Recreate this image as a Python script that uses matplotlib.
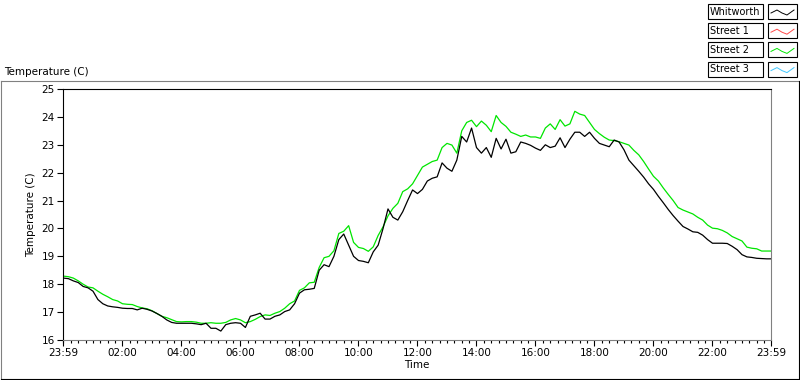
import numpy as np
import matplotlib
matplotlib.use("Agg")
import matplotlib.pyplot as plt
from matplotlib.patches import Rectangle
from matplotlib.ticker import FixedLocator, MultipleLocator

# minutes after midnight, one reading every 10 minutes (last one at 23:59)
minutes = list(range(0, 1440, 10)) + [1439]

whitworth = [
    18.22, 18.2, 18.12, 18.06, 17.92, 17.87, 17.75, 17.45, 17.3, 17.22, 17.19, 17.17, 17.14,
    17.13, 17.13, 17.08, 17.14, 17.1, 17.04, 16.95, 16.85, 16.72, 16.63, 16.6, 16.6,
    16.6, 16.6, 16.58, 16.55, 16.6, 16.42, 16.42, 16.32, 16.55, 16.6, 16.62, 16.6,
    16.45, 16.85, 16.9, 16.96, 16.75, 16.75, 16.85, 16.9, 17.02, 17.08, 17.3, 17.68,
    17.8, 17.82, 17.85, 18.5, 18.7, 18.63, 19.0, 19.6, 19.8, 19.4, 19.0, 18.85,
    18.82, 18.77, 19.16, 19.4, 20.0, 20.7, 20.4, 20.3, 20.6, 21.0, 21.38, 21.25,
    21.4, 21.7, 21.8, 21.85, 22.35, 22.16, 22.05, 22.45, 23.3, 23.1, 23.6, 22.9,
    22.7, 22.9, 22.55, 23.23, 22.85, 23.2, 22.7, 22.75, 23.1, 23.05, 22.98, 22.88,
    22.8, 23.0, 22.9, 22.95, 23.25, 22.9, 23.2, 23.45, 23.45, 23.3, 23.45, 23.23,
    23.05, 22.99, 22.93, 23.17, 23.1, 22.82, 22.45, 22.25, 22.05, 21.84, 21.6, 21.4,
    21.15, 20.92, 20.68, 20.46, 20.26, 20.07, 19.98, 19.88, 19.86, 19.76, 19.6, 19.47,
    19.47, 19.47, 19.46, 19.36, 19.24, 19.06, 18.98, 18.96, 18.93, 18.92, 18.91, 18.91,
]

street2 = [
    18.29, 18.27, 18.22, 18.12, 18.0, 17.9, 17.87, 17.75, 17.64, 17.55, 17.45, 17.4, 17.3,
    17.28, 17.27, 17.2, 17.15, 17.12, 17.05, 16.95, 16.85, 16.8, 16.73, 16.66, 16.65,
    16.66, 16.66, 16.64, 16.6, 16.6, 16.62, 16.6, 16.6, 16.63, 16.72, 16.77, 16.72,
    16.62, 16.66, 16.74, 16.84, 16.9, 16.88, 16.96, 17.02, 17.14, 17.3, 17.4, 17.78,
    17.87, 18.05, 18.07, 18.6, 18.95, 19.0, 19.2, 19.82, 19.9, 20.1, 19.5, 19.32,
    19.28, 19.18, 19.34, 19.75, 20.06, 20.45, 20.72, 20.9, 21.32, 21.42, 21.6, 21.9,
    22.2, 22.3, 22.4, 22.45, 22.9, 23.05, 22.99, 22.7, 23.5, 23.8, 23.88, 23.65,
    23.85, 23.7, 23.47, 24.05, 23.8, 23.66, 23.45, 23.38, 23.3, 23.35, 23.28, 23.28,
    23.23, 23.6, 23.75, 23.55, 23.9, 23.67, 23.75, 24.2, 24.1, 24.05, 23.8, 23.55,
    23.4, 23.27, 23.17, 23.15, 23.11, 23.05, 22.99, 22.8, 22.64, 22.4, 22.13, 21.87,
    21.7, 21.45, 21.22, 21.0, 20.75, 20.66, 20.59, 20.52, 20.4, 20.3, 20.12, 20.01,
    19.99, 19.93, 19.84, 19.71, 19.63, 19.55, 19.33, 19.29, 19.27, 19.19, 19.19, 19.19,
]

legend_names = ["Whitworth", "Street 1", "Street 2", "Street 3"]
legend_colors = ["black", "#ff4848", "#00e600", "#40c8ff"]

tick_minutes = [-1, 120, 240, 360, 480, 600, 720, 840, 960, 1080, 1200, 1320, 1439]
tick_labels = ["23:59", "02:00", "04:00", "06:00", "08:00", "10:00", "12:00",
               "14:00", "16:00", "18:00", "20:00", "22:00", "23:59"]

fs = 7.5
fig = plt.figure(figsize=(8, 3.8), dpi=100)

# overlay in pixel coordinates for frame, title and legend boxes
bg = fig.add_axes([0, 0, 1, 1])
bg.set_xlim(0, 800)
bg.set_ylim(380, 0)
bg.axis("off")
bg.plot([0.5, 0.5], [80.5, 379], color="#808080", lw=0.8)
bg.plot([0.5, 799], [80.5, 80.5], color="#808080", lw=0.8)
bg.plot([799, 799], [80.5, 379], color="black", lw=0.8)
bg.plot([0.5, 799], [379, 379], color="black", lw=0.8)
bg.text(4, 72, "Temperature (C)", fontsize=fs, va="center", ha="left")

for i, (name, col) in enumerate(zip(legend_names, legend_colors)):
    y0 = 4 + i * 19.2
    bg.add_patch(Rectangle((707.5, y0), 55.5, 15, fill=False, ec="black", lw=0.8))
    bg.add_patch(Rectangle((767.5, y0), 29.5, 15, fill=False, ec="black", lw=0.8))
    bg.text(709.5, y0 + 7.7, name, fontsize=7, va="center", ha="left")
    zx = [771, 777, 782, 787, 794]
    zy = [y0 + 9, y0 + 6, y0 + 9, y0 + 11, y0 + 6]
    bg.plot(zx, zy, color=col, lw=0.7)

ax = fig.add_axes([63 / 800, 40 / 380, 708 / 800, 251 / 380])
ax.plot(minutes, street2, color=legend_colors[2], lw=0.9)
ax.plot(minutes, whitworth, color=legend_colors[0], lw=0.9)

ax.set_xlim(-1, 1439)
ax.set_ylim(16, 25)
ax.xaxis.set_major_locator(FixedLocator(tick_minutes))
ax.set_xticklabels(tick_labels)
ax.xaxis.set_minor_locator(MultipleLocator(15))
ax.yaxis.set_major_locator(MultipleLocator(1))
ax.tick_params(axis="both", which="major", length=4, width=0.8, labelsize=fs, pad=2)
ax.tick_params(axis="x", which="minor", length=2.2, width=0.8)
for side in ["left", "top"]:
    ax.spines[side].set_color("black")
for side in ["right", "bottom"]:
    ax.spines[side].set_color("#808080")
for sp in ax.spines.values():
    sp.set_linewidth(0.8)
ax.set_xlabel("Time", fontsize=fs, labelpad=1)
ax.set_ylabel("Temperature (C)", fontsize=fs, labelpad=4)

fig.savefig("out.png", dpi=100)
